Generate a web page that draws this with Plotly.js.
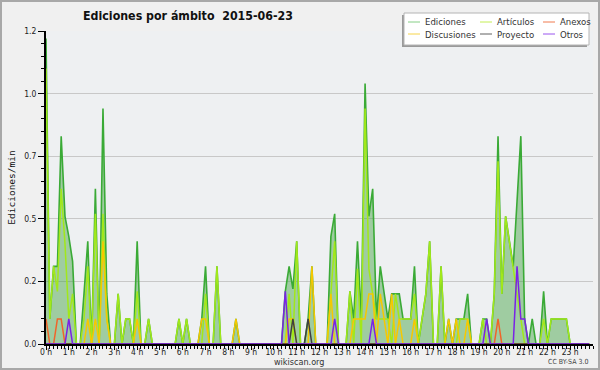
<!DOCTYPE html>
<html>
<head>
<meta charset="utf-8">
<script src="https://cdn.plot.ly/plotly-3.0.1.min.js"></script>
<style>
html,body{margin:0;padding:0;background:#f0f0f0;}
#wrap{position:relative;width:600px;height:370px;}
#chart{width:600px;height:370px;}
#frame{position:absolute;left:0;top:0;width:600px;height:370px;box-sizing:border-box;border:2px solid #a8a8a8;pointer-events:none;}
</style>
</head>
<body>
<div id="wrap"><div id="chart"></div><div id="frame"></div></div>
<script>
// 10-minute bins over the day, values in edits per minute
const hourLabels = ["0 h","1 h","2 h","3 h","4 h","5 h","6 h","7 h","8 h","9 h","10 h","11 h",
  "12 h","13 h","14 h","15 h","16 h","17 h","18 h","19 h","20 h","21 h","22 h","23 h"];
const yTickVals = [0, 0.25, 0.5, 0.75, 1.0, 1.25];
const yTickText = ["0.0", "0.2", "0.5", "0.7", "1.0", "1.2"];

const ediciones = [
  1.22,0.1,0.31,0.31,0.83,0.51,0.43,0.33,0,0,0.2,0.41,
  0,0.62,0,0.94,0.2,0,0,0.2,0,0.1,0.1,0,
  0.41,0,0,0.1,0,0,0,0,0,0,0,0.1,
  0,0.1,0,0,0,0.1,0.31,0,0,0.31,0,0,
  0,0,0.1,0,0,0,0,0,0,0,0,0,
  0,0,0,0.21,0.31,0.22,0.41,0,0,0.1,0.31,0,
  0,0,0,0.43,0.52,0,0,0,0.21,0.1,0.41,0.1,
  1.04,0.51,0.62,0.1,0.31,0.2,0.1,0.2,0.2,0.2,0.1,0.1,
  0.1,0.31,0,0.1,0.2,0.41,0,0,0.31,0,0.1,0,
  0.1,0.1,0.1,0.2,0,0,0,0.1,0.1,0,0.2,0.83,
  0.2,0.51,0.4,0.31,0.57,0.83,0.1,0,0.1,0,0,0.21,
  0,0.1,0.1,0.1,0.1,0.1,0,0,0,0,0,0
];
const articulos = [
  1.1,0.1,0.31,0.21,0.62,0.4,0.1,0.2,0,0,0.1,0.31,
  0,0.52,0,0.52,0.1,0,0,0.2,0,0.1,0.1,0,
  0.21,0,0,0.1,0,0,0,0,0,0,0,0.1,
  0,0.1,0,0,0,0,0.2,0,0,0.31,0,0,
  0,0,0,0,0,0,0,0,0,0,0,0,
  0,0,0,0,0.2,0,0.41,0,0,0,0,0,
  0,0,0,0.2,0.41,0,0,0,0.21,0,0.3,0,
  0.94,0.3,0.2,0.1,0.1,0.1,0.1,0,0.2,0.1,0.1,0.1,
  0.1,0.2,0,0.1,0.2,0.41,0,0,0.31,0,0,0,
  0,0.1,0.1,0.1,0,0,0,0.1,0,0,0.2,0.73,
  0.2,0.51,0.4,0.3,0.2,0.1,0,0,0,0,0,0.1,
  0,0.1,0.1,0.1,0.1,0.1,0,0,0,0,0,0
];
const discusiones = [
  0,0,0,0,0,0,0,0,0,0,0,0.1,
  0,0.1,0,0.41,0.1,0,0,0,0,0,0,0,
  0.1,0,0,0,0,0,0,0,0,0,0,0,
  0,0,0,0,0,0.1,0.1,0,0,0,0,0,
  0,0,0.1,0,0,0,0,0,0,0,0,0,
  0,0,0,0,0.1,0.1,0,0,0,0,0.31,0,
  0,0,0,0.2,0,0,0,0,0,0.1,0.1,0.1,
  0.1,0.2,0.2,0,0.2,0.1,0,0.2,0,0.1,0,0,
  0,0.1,0,0,0,0,0,0,0,0,0.1,0,
  0.1,0,0,0.1,0,0,0,0,0,0,0,0,
  0,0,0,0,0,0,0,0,0,0,0,0,
  0,0,0,0,0,0,0,0,0,0,0,0
];
const anexos = [
  0.1,0,0,0.1,0.1,0,0,0,0,0,0,0,
  0,0,0,0,0,0,0,0,0,0,0,0,
  0,0,0,0,0,0,0,0,0,0,0,0,
  0,0,0,0,0,0,0,0,0,0,0,0,
  0,0,0,0,0,0,0,0,0,0,0,0,
  0,0,0,0,0,0,0,0,0,0,0,0,
  0,0,0,0,0,0,0,0,0,0,0,0,
  0,0,0,0,0,0,0,0,0,0,0,0,
  0,0,0,0,0,0,0,0,0,0,0,0,
  0,0,0,0,0,0,0,0,0,0,0,0.1,
  0,0,0,0,0,0,0,0,0,0,0,0,
  0,0,0,0,0,0,0,0,0,0,0,0
];
const proyecto = [
  0,0,0,0,0,0,0,0,0,0,0,0,
  0,0,0,0,0,0,0,0,0,0,0,0,
  0,0,0,0,0,0,0,0,0,0,0,0,
  0,0,0,0,0,0,0,0,0,0,0,0,
  0,0,0,0,0,0,0,0,0,0,0,0,
  0,0,0,0,0,0.1,0,0,0,0.1,0,0,
  0,0,0,0,0,0,0,0,0,0,0,0,
  0,0,0,0,0,0,0,0,0,0,0,0,
  0,0,0,0,0,0,0,0,0,0,0,0,
  0,0,0,0,0,0,0,0,0,0,0,0,
  0,0,0,0,0,0,0,0,0,0,0,0,
  0,0,0,0,0,0,0,0,0,0,0,0
];
const otros = [
  0,0,0,0,0,0,0.1,0,0,0,0,0,
  0,0,0,0,0,0,0,0,0,0,0,0,
  0,0,0,0,0,0,0,0,0,0,0,0,
  0,0,0,0,0,0,0,0,0,0,0,0,
  0,0,0,0,0,0,0,0,0,0,0,0,
  0,0,0,0.21,0,0,0,0,0,0,0,0,
  0,0,0,0,0.1,0,0,0,0,0,0,0,
  0,0,0.1,0,0,0,0,0,0,0,0,0,
  0,0,0,0,0,0,0,0,0,0,0,0,
  0,0,0,0,0,0,0,0,0.1,0,0,0,
  0,0,0,0,0.31,0.1,0.1,0,0,0,0,0,
  0,0,0,0,0,0,0,0,0,0,0,0
];
const seriesNames = ["Ediciones","Artículos","Anexos","Discusiones","Proyecto","Otros"];
const seriesColors = {
  "Ediciones": "#3aaa36", "Artículos": "#a2e81a", "Anexos": "#f0642a",
  "Discusiones": "#f6c800", "Proyecto": "#404040", "Otros": "#7a22e6"
};
const legendColors = {
  "Ediciones": "#86cf86", "Artículos": "#c4ee55", "Anexos": "#f07a4e",
  "Discusiones": "#f6d44a", "Proyecto": "#606060", "Otros": "#9a55ee"
};

const times = ediciones.map((_, i) => i / 6);

const lineTrace = (name, y, width) => ({
  type: "scatter", mode: "lines", x: times, y: y, name: name,
  line: {color: seriesColors[name], width: width}, showlegend: false, hoverinfo: "skip"
});

const traces = [
  Object.assign(lineTrace("Ediciones", ediciones, 1.6), {fill: "tozeroy", fillcolor: "rgba(62,160,62,0.45)"}),
  lineTrace("Artículos", articulos, 1.5),
  lineTrace("Discusiones", discusiones, 1.5),
  lineTrace("Anexos", anexos, 1.5),
  lineTrace("Proyecto", proyecto, 1.5),
  lineTrace("Otros", otros, 1.5)
];

// plot area geometry (pixels) for the paper-anchored legend box
const L = 46, T = 31, W = 547, H = 313;
const px = x => (x - L) / W;
const py = y => (T + H - y) / H;
const FONT = "DejaVu Sans Condensed, DejaVu Sans";

const shapes = [
  {type:"rect", xref:"paper", yref:"paper", x0:px(402), x1:px(587), y0:py(47), y1:py(15),
   fillcolor:"#9a9a9a", line:{width:0}, layer:"above"},
  {type:"rect", xref:"paper", yref:"paper", x0:px(404), x1:px(589), y0:py(45), y1:py(13),
   fillcolor:"#ffffff", line:{color:"#b4b4b4", width:1}, layer:"above"}
];
const annotations = [];
const legendPos = [
  ["Ediciones", 408, 22], ["Artículos", 480, 22], ["Anexos", 543, 22],
  ["Discusiones", 408, 34], ["Proyecto", 480, 34], ["Otros", 543, 34]
];
legendPos.forEach(([name, x, y]) => {
  shapes.push({type:"line", xref:"paper", yref:"paper", x0:px(x), x1:px(x + 12), y0:py(y), y1:py(y),
    line:{color: legendColors[name], width: 1}, layer:"above"});
  annotations.push({xref:"paper", yref:"paper", x:px(x + 15), y:py(y), xanchor:"left", yanchor:"middle",
    text:name, showarrow:false, font:{family:FONT, size:9.5, color:"#333"}});
});
annotations.push({xref:"paper", yref:"paper", x:px(299), y:py(362), xanchor:"center", yanchor:"middle",
  text:"wikiscan.org", showarrow:false, font:{family:FONT, size:9, color:"#333"}});
annotations.push({xref:"paper", yref:"paper", x:px(590), y:py(362), xanchor:"right", yanchor:"middle",
  text:"CC BY-SA 3.0", showarrow:false, font:{family:FONT, size:7, color:"#444"}});

const layout = {
  width: 600, height: 370,
  margin: {l: L, r: 600 - L - W, t: T, b: 370 - T - H, pad: 0},
  paper_bgcolor: "#f0f0f0",
  plot_bgcolor: "#eef0f2",
  showlegend: false,
  title: {
    text: "<b>Ediciones por ámbito \u00a02015-06-23</b>",
    x: 188 / 600, xanchor: "center", xref: "container",
    y: 1 - 16 / 370, yanchor: "middle", yref: "container",
    font: {family: FONT, size: 12.3, color: "#111"}
  },
  xaxis: {
    range: [0, 24], fixedrange: true,
    tickmode: "array", tickvals: hourLabels.map((_, h) => h), ticktext: hourLabels,
    ticks: "outside", ticklen: 4, tickwidth: 1, tickcolor: "#000",
    minor: {tickmode: "linear", tick0: 0, dtick: 1 / 6, ticks: "outside", ticklen: 3, tickwidth: 1, tickcolor: "#000", showgrid: false},
    showgrid: false, zeroline: false,
    showline: true, linecolor: "#000", linewidth: 2,
    ticklabelstandoff: -5,
    tickfont: {family: FONT, size: 8.5, color: "#222"}
  },
  yaxis: {
    range: [0, 1.25], fixedrange: true,
    tickmode: "array", tickvals: yTickVals, ticktext: yTickText,
    ticks: "outside", ticklen: 6, tickwidth: 1, tickcolor: "#000",
    minor: {tickmode: "linear", tick0: 0, dtick: 0.05, ticks: "outside", ticklen: 3, tickwidth: 1, tickcolor: "#000", showgrid: false},
    showgrid: true, gridcolor: "#c8c8c8", gridwidth: 1, zeroline: false,
    showline: true, linecolor: "#000", linewidth: 2,
    tickfont: {family: FONT, size: 8.5, color: "#222"},
    title: {text: "Ediciones/min", font: {family: "DejaVu Sans Mono", size: 9.5, color: "#111"}, standoff: 7}
  },
  shapes: shapes,
  annotations: annotations
};

Plotly.newPlot("chart", traces, layout, {staticPlot: true, displayModeBar: false});
</script>
</body>
</html>
